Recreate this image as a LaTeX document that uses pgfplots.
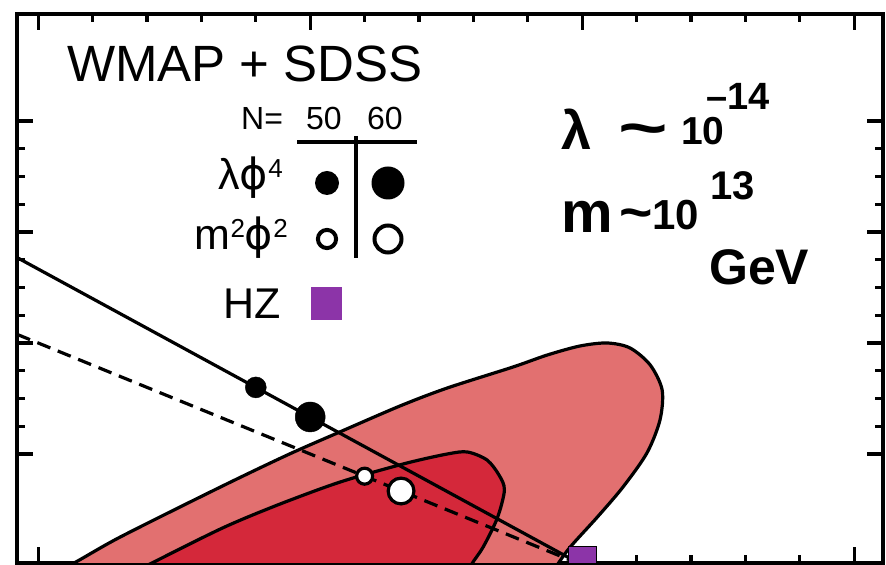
\documentclass[border=0pt]{standalone}
\usepackage{fontspec}
\setmainfont{Liberation Sans}
\newfontfamily\dejavu{DejaVu Sans}
\usepackage{graphicx}
\usepackage{pgfplots}
\pgfplotsset{compat=1.18}
\definecolor{outerred}{RGB}{226,112,112}
\definecolor{innerred}{RGB}{212,40,58}
\definecolor{hzpurple}{RGB}{140,52,168}
\newcommand\fs[1]{\fontsize{#1bp}{#1bp}\selectfont}
\newcommand\ph{{\dejavu ϕ}}
\begin{document}
\begin{tikzpicture}
\begin{axis}[
  scale only axis, width=866bp, height=549bp,
  xmin=0.8961, xmax=1.0553, ymin=0.0036, ymax=0.9928,
  xtick={0.90,0.95,1.00,1.05}, ytick={0.2,0.4,0.6,0.8},
  minor x tick num=4, minor y tick num=3,
  xticklabels={}, yticklabels={},
  tick align=inside,
  major tick length=16bp, minor tick length=8bp,
  axis line style={line width=3.8bp},
  every outer x axis line/.append style={line width=3.8bp},
  every outer y axis line/.append style={line width=3.8bp},
  tick style={line width=3.2bp, black},
  clip marker paths=true,
]
% 95% contour
\addplot[smooth, fill=outerred, draw=black, line width=3.2bp] coordinates {
(0.8900,-0.100) (0.8959,-0.048) (0.9059,0.000) (0.9151,0.0505) (0.9335,0.1405)
(0.9458,0.1982) (0.9550,0.2378) (0.9665,0.2865) (0.9752,0.3189) (0.9873,0.3568)
(0.9936,0.3784) (0.9996,0.3946) (1.0046,0.4000) (1.0088,0.3910) (1.0125,0.3604)
(1.0147,0.3153) (1.0143,0.2613) (1.0119,0.2018) (1.0075,0.1405) (1.0028,0.0865)
(0.9978,0.0324) (0.9954,0.000) (0.9923,-0.045) (0.9877,-0.100)
};
% 68% contour
\addplot[smooth, fill=innerred, draw=black, line width=3.2bp] coordinates {
(0.9060,-0.100) (0.9115,-0.045) (0.9202,0.000) (0.9335,0.0649) (0.9426,0.1027)
(0.9518,0.1369) (0.9579,0.1568) (0.9678,0.1838) (0.9752,0.2000) (0.9789,0.2036)
(0.9825,0.1892) (0.9847,0.1622) (0.9857,0.1351) (0.9844,0.0847) (0.9818,0.0324)
(0.9796,0.000) (0.9774,-0.045) (0.9739,-0.100)
};
% lambda phi^4 trajectory
\addplot[black, line width=3.2bp] coordinates {(0.8961,0.554) (1.0,0.0)};
% m^2 phi^2 trajectory
\addplot[black, line width=3.2bp, dash pattern=on 14bp off 8bp] coordinates {(0.8961,0.4156) (1.0,0.0)};
% lambda phi^4 points
\addplot[only marks, mark=*, mark size=10.5bp, mark options={fill=black, draw=none}] coordinates {(0.94,0.32)};
\addplot[only marks, mark=*, mark size=15bp, mark options={fill=black, draw=none}] coordinates {(0.95,0.2667)};
% m^2 phi^2 points
\addplot[only marks, mark=*, mark size=8bp, mark options={fill=white, draw=black, line width=3.2bp}] coordinates {(0.96,0.16)};
\addplot[only marks, mark=*, mark size=12.9bp, mark options={fill=white, draw=black, line width=3.2bp}] coordinates {(0.9667,0.1333)};
% HZ
\addplot[only marks, mark=square*, mark size=13.5bp, mark options={fill=hzpurple, draw=none}] coordinates {(1.0,0.01)};
\end{axis}
\begin{scope}[shift={(current axis.north west)}, x=1bp, y=-1bp, shift={(-17,-14)}]
\node[anchor=base west, inner sep=0] at (67,82) {\fs{51}WMAP + SDSS};
\node[anchor=base west, inner sep=0] at (241,130) {\fs{32}N=};
\node[anchor=base west, inner sep=0] at (306,130) {\fs{32}50};
\node[anchor=base west, inner sep=0] at (367,130) {\fs{32}60};
\draw[line width=3.2bp] (297,142) -- (417,142);
\draw[line width=3.2bp] (356,136) -- (356,258);
\node[anchor=base east, inner sep=0] at (283,190) {\fs{43}λ\ph\raisebox{0.3em}{\fs{26}4}};
\node[anchor=base east, inner sep=0] at (288,250) {\fs{43}m\raisebox{0.3em}{\fs{26}2}\ph\raisebox{0.3em}{\fs{26}2}};
\node[anchor=base east, inner sep=0] at (281,319) {\fs{43}HZ};
\fill (327,183) circle (12bp);
\fill (388,183) circle (16.5bp);
\draw[line width=4bp, fill=white] (327,239) circle (9.1bp);
\draw[line width=4bp, fill=white] (388,239) circle (13.5bp);
\fill[hzpurple] (311,287) rectangle (342,320);
% handwritten annotation
\node[anchor=base west, inner sep=0] at (561,150) {\fs{54}\bfseries λ};
\node[inner sep=0] at (643,136) {\scalebox{1.7}[1.2]{\fs{50}\bfseries\textasciitilde}};
\node[anchor=base west, inner sep=0] at (681,145) {\fs{39}\bfseries 10};
\node[anchor=base west, inner sep=0] at (706,110) {\fs{38}\bfseries –14};
\node[anchor=base west, inner sep=0] at (561,233) {\fs{58}\bfseries m};
\node[inner sep=0] at (636,220) {\scalebox{1.3}[1.2]{\fs{44}\bfseries\textasciitilde}};
\node[anchor=base west, inner sep=0] at (652,230) {\fs{42}\bfseries 10};
\node[anchor=base west, inner sep=0] at (710,200) {\fs{40}\bfseries 13};
\node[anchor=base west, inner sep=0] at (709,285) {\fs{50}\bfseries GeV};
\pgfresetboundingbox
\path[use as bounding box] (0,0) rectangle (886,565);
\end{scope}
\end{tikzpicture}
\end{document}
